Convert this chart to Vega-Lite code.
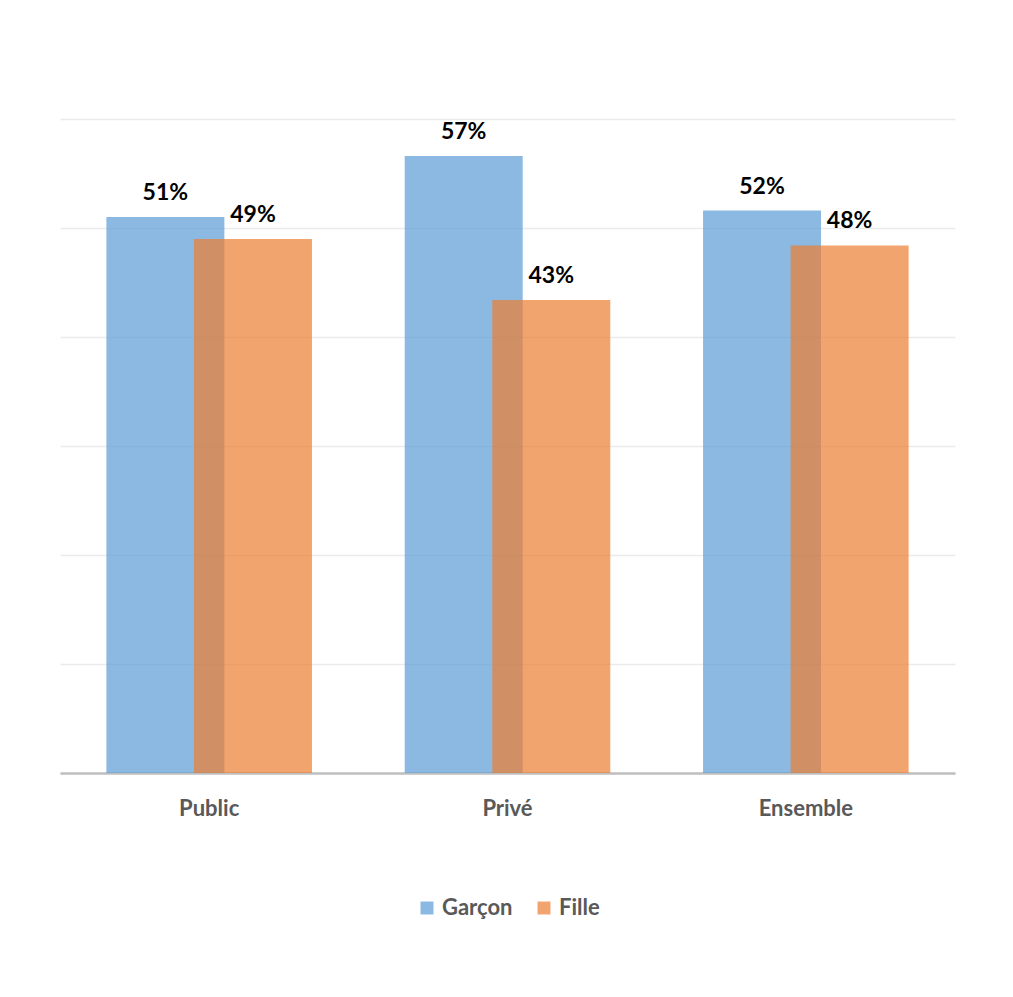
{
  "$schema": "https://vega.github.io/schema/vega-lite/v6.json",
  "width": 895,
  "height": 654,
  "padding": {"left": 60, "top": 119, "right": 10, "bottom": 10},
  "background": "white",
  "config": {
    "view": {"stroke": null},
    "legend": {"layout": {"bottom": {"anchor": "middle"}}}
  },
  "data": {
    "values": [
      {"secteur": "Public", "sexe": "Garçon", "part": 0.51},
      {"secteur": "Privé", "sexe": "Garçon", "part": 0.566},
      {"secteur": "Ensemble", "sexe": "Garçon", "part": 0.516},
      {"secteur": "Public", "sexe": "Fille", "part": 0.49},
      {"secteur": "Privé", "sexe": "Fille", "part": 0.434},
      {"secteur": "Ensemble", "sexe": "Fille", "part": 0.484}
    ]
  },
  "encoding": {
    "x": {
      "field": "secteur",
      "type": "nominal",
      "sort": ["Public", "Privé", "Ensemble"],
      "scale": {"paddingInner": 0, "paddingOuter": 0},
      "axis": {
        "title": null,
        "domainColor": "#BFBFBF",
        "domainWidth": 2.5,
        "ticks": false,
        "grid": false,
        "labelAngle": 0,
        "labelFont": "Lato",
        "labelFontWeight": "bold",
        "labelFontSize": 22,
        "labelColor": "#595959",
        "labelPadding": 25
      }
    },
    "xOffset": {
      "field": "sexe",
      "type": "nominal",
      "sort": ["Garçon", "Fille"],
      "scale": {"paddingInner": 0, "paddingOuter": 0.703}
    },
    "y": {
      "field": "part",
      "type": "quantitative",
      "scale": {"domain": [0, 0.6], "nice": false},
      "axis": {
        "title": null,
        "labels": false,
        "ticks": false,
        "domain": false,
        "grid": true,
        "gridColor": "#EBEBEB",
        "gridWidth": 1.5,
        "values": [0, 0.1, 0.2, 0.3, 0.4, 0.5, 0.6]
      }
    }
  },
  "layer": [
    {
      "mark": {"type": "bar", "width": 118, "opacity": 0.7},
      "encoding": {
        "color": {
          "field": "sexe",
          "type": "nominal",
          "sort": ["Garçon", "Fille"],
          "scale": {"domain": ["Garçon", "Fille"], "range": ["#5B9BD5", "#ED7D31"]},
          "legend": {
            "orient": "bottom",
            "direction": "horizontal",
            "title": null,
            "symbolType": "square",
            "symbolSize": 169,
            "symbolOpacity": 0.7,
            "symbolStrokeWidth": 0,
            "labelFont": "Lato",
            "labelFontSize": 22,
            "labelFontWeight": "bold",
            "labelColor": "#595959",
            "offset": 78,
            "columnPadding": 20
          }
        }
      }
    },
    {
      "mark": {
        "type": "text",
        "baseline": "bottom",
        "dy": -12,
        "font": "Lato",
        "fontWeight": "bold",
        "fontSize": 23,
        "color": "black"
      },
      "encoding": {"text": {"field": "part", "type": "quantitative", "format": ".0%"}}
    }
  ]
}
